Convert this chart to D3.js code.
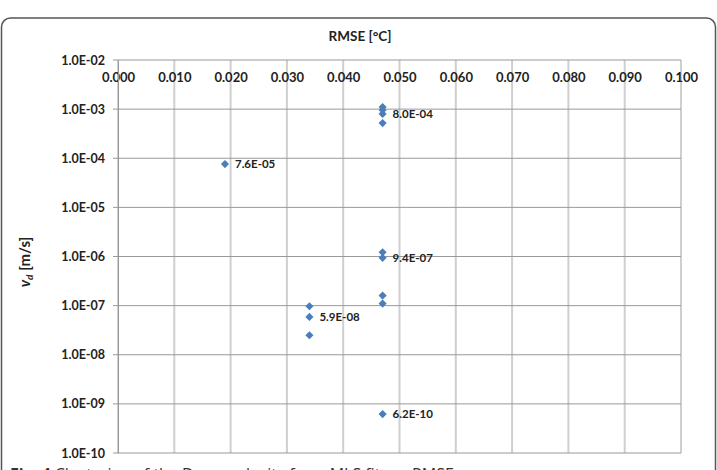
<!DOCTYPE html>
<html>
<head>
<meta charset="utf-8">
<script src="https://cdn.jsdelivr.net/npm/d3@7"></script>
<style>
  body { margin: 0; background: #fff; }
  svg { display: block; font-family: Lato, "Open Sans", sans-serif; }
</style>
</head>
<body>
<svg width="717" height="470"></svg>
<script>
// data
var rmse = [0.019, 0.047, 0.047, 0.047, 0.047, 0.047, 0.047, 0.047, 0.047, 0.034, 0.034, 0.034, 0.047];
var vd   = [7.6e-5, 1.1e-3, 9.6e-4, 8.0e-4, 5.2e-4, 1.22e-6, 9.4e-7, 1.6e-7, 1.1e-7, 9.7e-8, 5.9e-8, 2.5e-8, 6.2e-10];
var pointLabels = ['7.6E-05', '', '', '8.0E-04', '', '', '9.4E-07', '', '', '', '5.9E-08', '', '6.2E-10'];
var xTicks = [0, 0.01, 0.02, 0.03, 0.04, 0.05, 0.06, 0.07, 0.08, 0.09, 0.1];
var yTicks = [1e-2, 1e-3, 1e-4, 1e-5, 1e-6, 1e-7, 1e-8, 1e-9, 1e-10];

var svg = d3.select('svg');

// outer frame, runs off the bottom of the picture
svg.append('rect')
    .attr('x', 1.5).attr('y', 18)
    .attr('width', 714).attr('height', 480)
    .attr('rx', 9)
    .attr('fill', 'none')
    .attr('stroke', '#555')
    .attr('stroke-width', 1.5);

var plotL = 118, plotR = 681, plotT = 60, plotB = 453;

var scaleX = d3.scaleLinear().domain([0, 0.1]).range([plotL, plotR]);
var scaleY = d3.scaleLog().domain([1e-10, 1e-2]).range([plotB, plotT]);

// vertical grid (light, a bit wide)
svg.append('g')
    .selectAll('line')
    .data(xTicks)
    .enter()
    .append('line')
    .attr('x1', function(d){ return scaleX(d); })
    .attr('x2', function(d){ return scaleX(d); })
    .attr('y1', plotT).attr('y2', plotB)
    .attr('stroke', '#cfcfcf')
    .attr('stroke-width', 2);

// horizontal grid
svg.append('g')
    .selectAll('line')
    .data(yTicks)
    .enter()
    .append('line')
    .attr('x1', plotL - 5).attr('x2', plotR)
    .attr('y1', function(d){ return scaleY(d); })
    .attr('y2', function(d){ return scaleY(d); })
    .attr('stroke', '#999')
    .attr('stroke-width', 1);

// x axis on top, labels under the top line
var xAxis = svg.append('g')
    .attr('transform', 'translate(0,' + plotT + ')')
    .call(d3.axisBottom(scaleX).tickValues(xTicks).tickSize(0).tickPadding(13)
        .tickFormat(d3.format('.3f')));
xAxis.select('.domain').remove();
xAxis.selectAll('text')
    .attr('font-size', 13).attr('font-weight', 'bold').attr('fill', '#222')
    .attr('font-family', 'Lato, sans-serif');

// y axis
var yAxis = svg.append('g')
    .attr('transform', 'translate(' + plotL + ',0)')
    .call(d3.axisLeft(scaleY).tickValues(yTicks).tickSize(0).tickPadding(13)
        .tickFormat(function(d){ return d.toExponential(1).toUpperCase().replace(/E-(\d)$/, 'E-0$1'); }));
yAxis.select('.domain').attr('stroke', '#999');
yAxis.selectAll('text')
    .attr('font-size', 12.5).attr('font-weight', 'bold').attr('fill', '#222')
    .attr('font-family', 'Lato, sans-serif');

// points
var pts = d3.range(rmse.length);
svg.append('g')
    .selectAll('path')
    .data(pts)
    .enter()
    .append('path')
    .attr('d', d3.symbol().type(d3.symbolDiamond2).size(42))
    .attr('transform', function(i){ return 'translate(' + scaleX(rmse[i]) + ',' + scaleY(vd[i]) + ')'; })
    .attr('fill', '#4a7ebb');

svg.append('g')
    .selectAll('text')
    .data(pts.filter(function(i){ return pointLabels[i] !== ''; }))
    .enter()
    .append('text')
    .attr('x', function(i){ return scaleX(rmse[i]) + 10; })
    .attr('y', function(i){ return scaleY(vd[i]) + 4; })
    .attr('font-size', 11.5).attr('font-weight', 'bold').attr('fill', '#222')
    .text(function(i){ return pointLabels[i]; });

// titles
svg.append('text')
    .attr('x', 360).attr('y', 41)
    .attr('text-anchor', 'middle')
    .attr('font-size', 13.5).attr('font-weight', 'bold').attr('fill', '#222')
    .text('RMSE [°C]');

var yt = svg.append('text')
    .attr('transform', 'translate(30,262) rotate(-90)')
    .attr('text-anchor', 'middle')
    .attr('font-size', 15).attr('font-weight', 'bold').attr('fill', '#222');
yt.append('tspan').attr('font-style', 'italic').text('v');
yt.append('tspan').attr('font-style', 'italic').attr('font-size', 10).attr('dy', 3).text('d');
yt.append('tspan').attr('dy', -3).text(' [m/s]');

// caption, cut off by the bottom edge
var cap = svg.append('text')
    .attr('x', 10).attr('y', 480)
    .attr('font-size', 16).attr('fill', '#333')
    .attr('font-family', '"Open Sans", sans-serif');
cap.append('tspan').attr('font-weight', 'bold').text('Fig. 4');
cap.append('tspan').text('  Clustering of the Darcy velocity from MLS fits vs RMSE');
</script>
</body>
</html>
